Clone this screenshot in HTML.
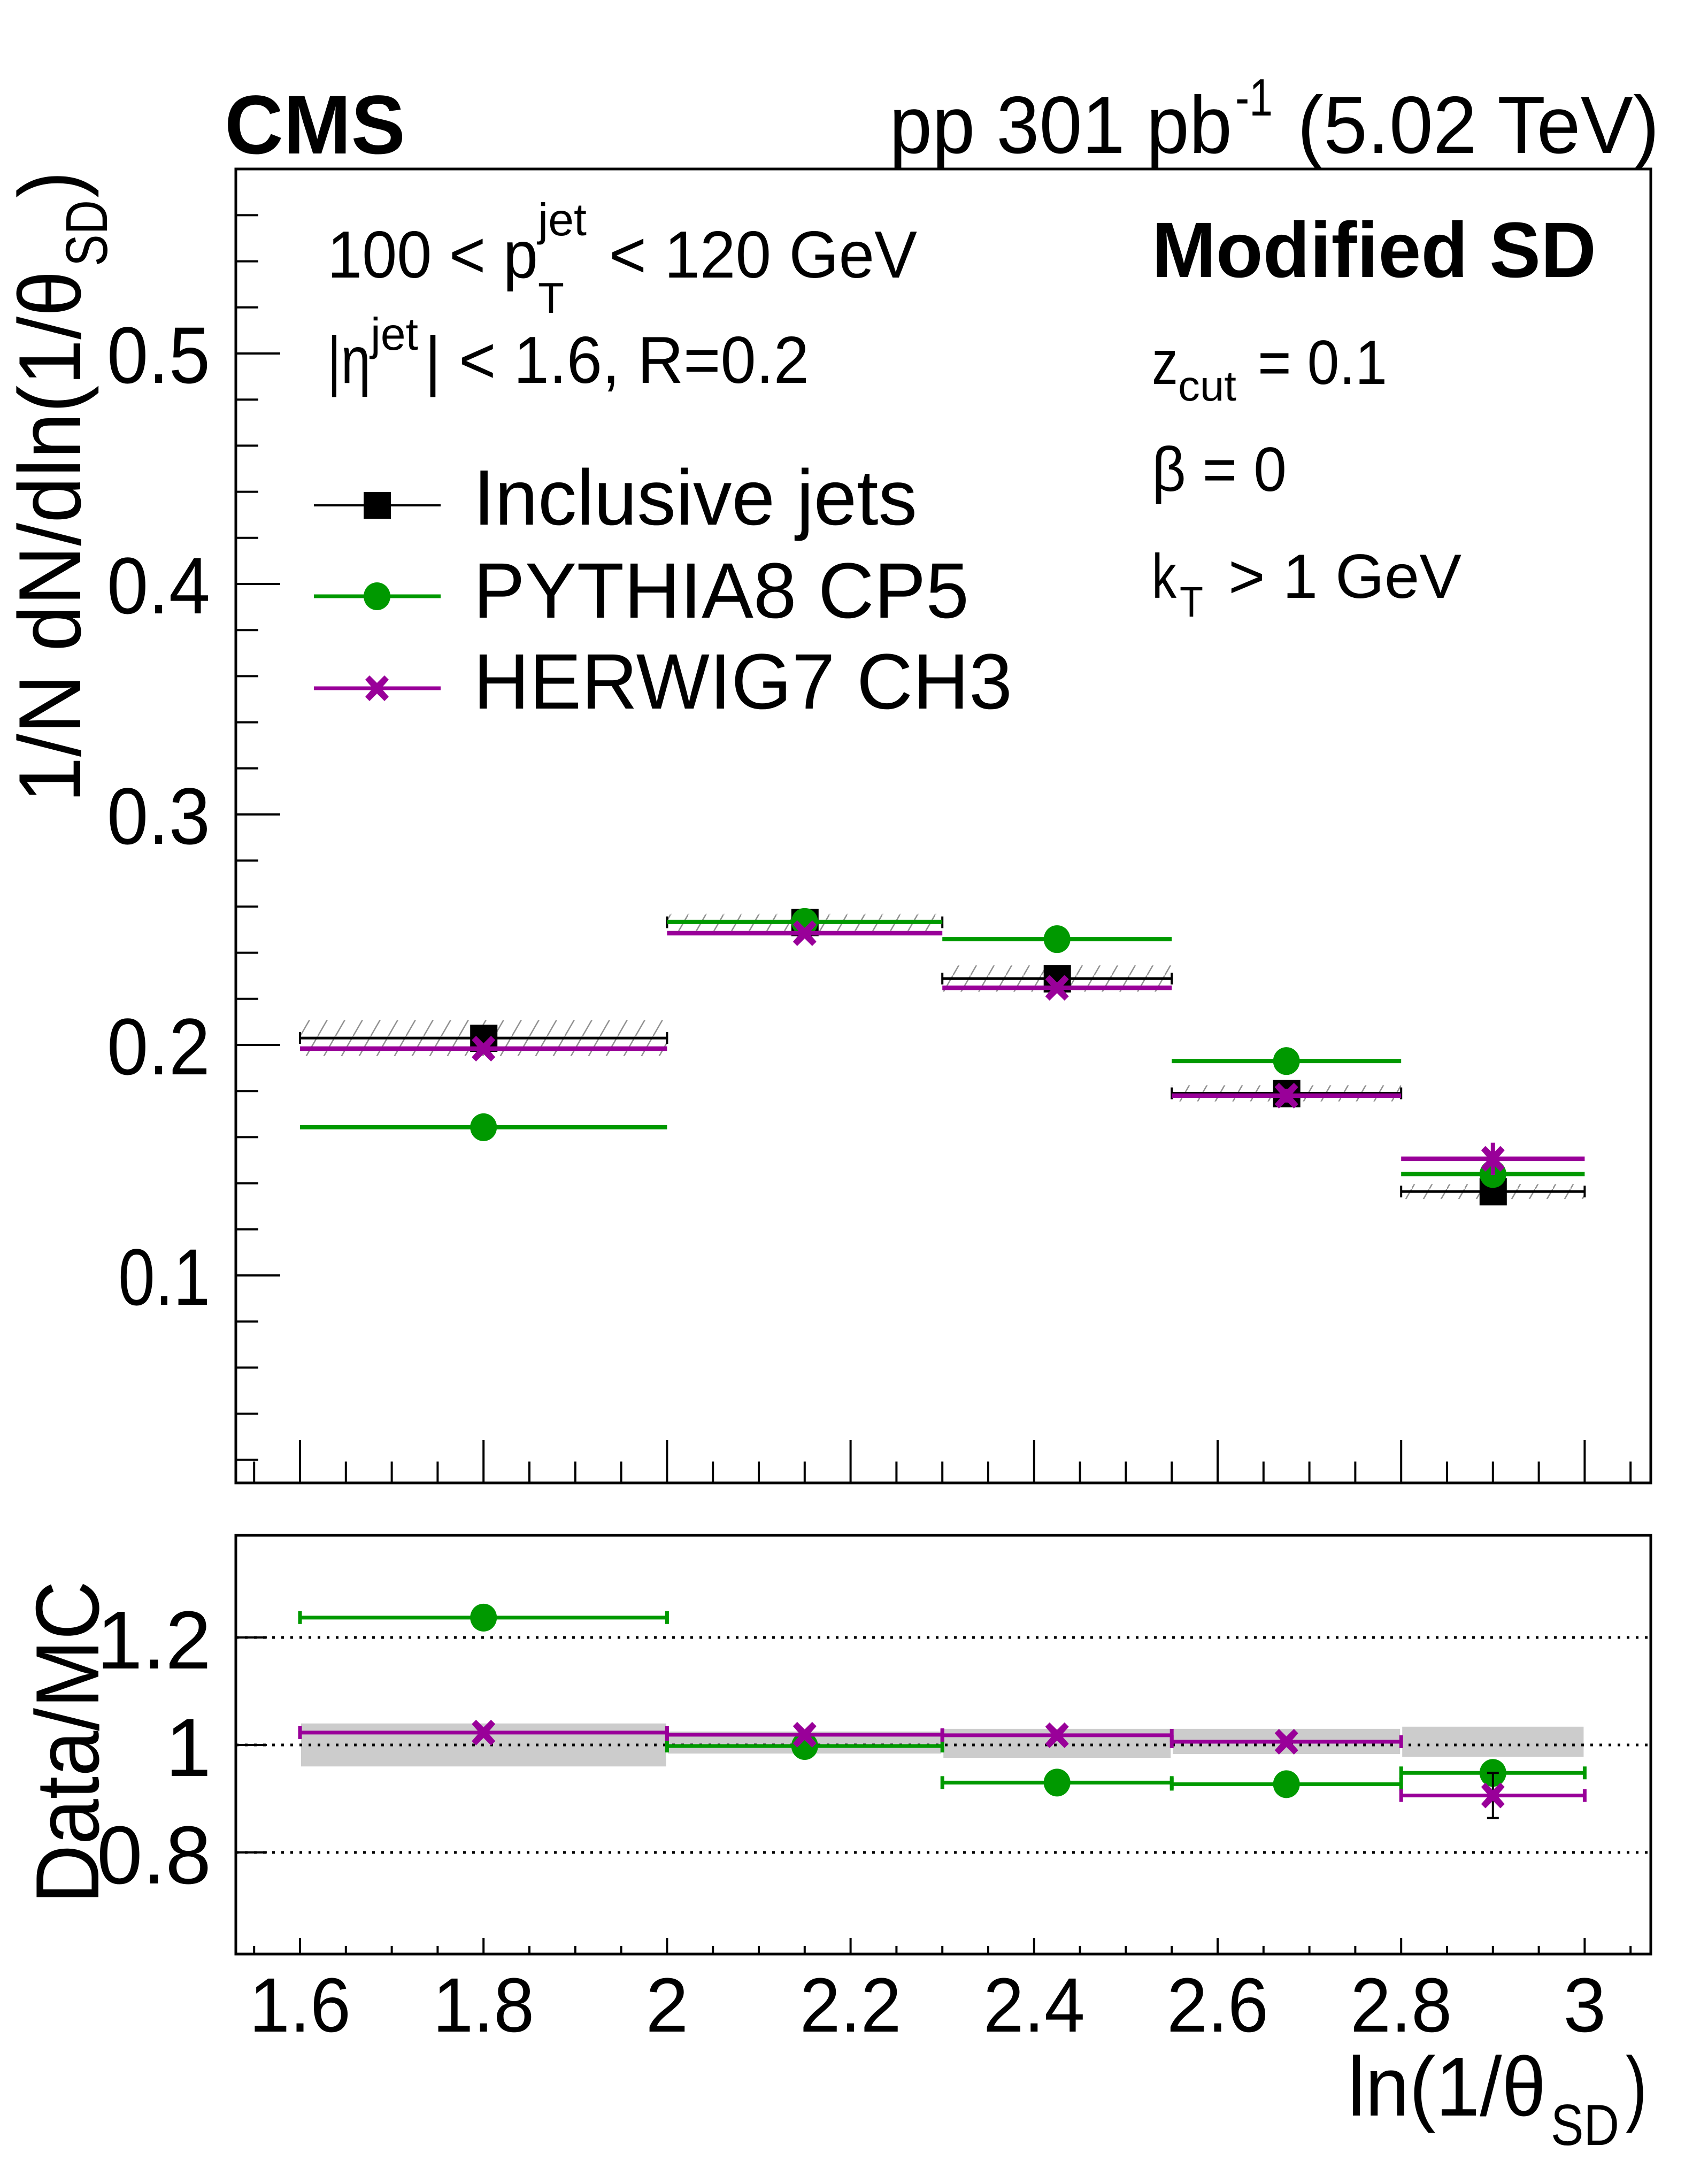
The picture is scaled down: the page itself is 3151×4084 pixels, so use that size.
<!DOCTYPE html>
<html><head><meta charset="utf-8">
<style>
html,body{margin:0;padding:0;background:#fff;}
svg{display:block;}
text{font-family:"Liberation Sans",Helvetica,Arial,sans-serif;fill:#000;}
</style></head>
<body>
<svg id="chart" xmlns="http://www.w3.org/2000/svg" width="3151" height="4084" viewBox="0 0 3151 4084">
<defs>
<pattern id="hatch" patternUnits="userSpaceOnUse" width="33" height="57">
<line x1="0" y1="57" x2="33" y2="0" stroke="#909090" stroke-width="2.5"/>
</pattern>
</defs>
<rect x="0" y="0" width="3151" height="4084" fill="#fff"/>

<text x="420" y="287" font-size="156" font-weight="bold" textLength="338" lengthAdjust="spacingAndGlyphs">CMS</text>
<g>
<text x="1663" y="286" font-size="152" textLength="641" lengthAdjust="spacingAndGlyphs">pp 301 pb</text>
<text x="2310" y="216" font-size="98" textLength="70" lengthAdjust="spacingAndGlyphs">-1</text>
<text x="2426" y="286" font-size="152" textLength="677" lengthAdjust="spacingAndGlyphs">(5.02 TeV)</text>
</g>

<g>
<text x="612" y="519" font-size="124" textLength="394" lengthAdjust="spacingAndGlyphs">100 &lt; p</text>
<text x="1006" y="440" font-size="85" textLength="91" lengthAdjust="spacingAndGlyphs">jet</text>
<text x="1006" y="585" font-size="81" textLength="49" lengthAdjust="spacingAndGlyphs">T</text>
<text x="1139" y="519" font-size="124" textLength="576" lengthAdjust="spacingAndGlyphs">&lt; 120 GeV</text>
</g>
<g>
<text x="612" y="716" font-size="124" textLength="81" lengthAdjust="spacingAndGlyphs">|η</text>
<text x="693" y="654" font-size="85" textLength="89" lengthAdjust="spacingAndGlyphs">jet</text>
<text x="794" y="716" font-size="124" textLength="719" lengthAdjust="spacingAndGlyphs">| &lt; 1.6, R=0.2</text>
</g>
<text x="2154" y="518" font-size="147" font-weight="bold" textLength="831" lengthAdjust="spacingAndGlyphs">Modified SD</text>
<g>
<text x="2154" y="718" font-size="117" textLength="49" lengthAdjust="spacingAndGlyphs">z</text>
<text x="2203" y="749" font-size="80" textLength="109" lengthAdjust="spacingAndGlyphs">cut</text>
<text x="2352" y="718" font-size="117" textLength="242" lengthAdjust="spacingAndGlyphs">= 0.1</text>
</g>
<text x="2154" y="918" font-size="117" textLength="252" lengthAdjust="spacingAndGlyphs">β = 0</text>
<g>
<text x="2154" y="1118" font-size="117" textLength="46" lengthAdjust="spacingAndGlyphs">k</text>
<text x="2206" y="1153" font-size="80" textLength="44" lengthAdjust="spacingAndGlyphs">T</text>
<text x="2297" y="1118" font-size="117" textLength="436" lengthAdjust="spacingAndGlyphs">&gt; 1 GeV</text>
</g>

<g>
<g>
<line x1="587" y1="945" x2="824" y2="945" stroke="#000" stroke-width="4"/>
<rect x="680" y="920" width="51" height="50" fill="#000"/>
<text x="885" y="981" font-size="147" textLength="830" lengthAdjust="spacingAndGlyphs">Inclusive jets</text>
</g>
<g>
<line x1="587" y1="1115" x2="824" y2="1115" stroke="#009900" stroke-width="7"/>
<ellipse cx="705" cy="1115" rx="25" ry="26" fill="#009900"/>
<text x="885" y="1155" font-size="147" textLength="927" lengthAdjust="spacingAndGlyphs">PYTHIA8 CP5</text>
</g>
<g>
<line x1="587" y1="1287" x2="824" y2="1287" stroke="#990099" stroke-width="7"/>
<path d="M683,1271 L691,1263 L705,1277 L719,1263 L727,1271 L713,1287 L727,1303 L719,1311 L705,1297 L691,1311 L683,1303 L697,1287 Z" fill="#990099"/>
<text x="885" y="1325" font-size="147" textLength="1008" lengthAdjust="spacingAndGlyphs">HERWIG7 CH3</text>
</g>
</g>

<g transform="translate(150,1501) rotate(-90)">
<text x="0" y="0" font-size="165" textLength="995" lengthAdjust="spacingAndGlyphs">1/N dN/dln(1/θ</text>
<text x="1003" y="50" font-size="110" textLength="124" lengthAdjust="spacingAndGlyphs">SD</text>
<text x="1131" y="0" font-size="165" textLength="50" lengthAdjust="spacingAndGlyphs">)</text>
</g>
<text transform="translate(184,3560) rotate(-90)" font-size="168" textLength="604" lengthAdjust="spacingAndGlyphs">Data/MC</text>
<g>
<text x="2520" y="3956" font-size="157" textLength="371" lengthAdjust="spacingAndGlyphs">ln(1/θ</text>
<text x="2900" y="4011" font-size="109" textLength="128" lengthAdjust="spacingAndGlyphs">SD</text>
<text x="3040" y="3956" font-size="157" textLength="40" lengthAdjust="spacingAndGlyphs">)</text>
</g>

<g id="top-panel"></g>
<g id="ratio-panel"></g>
</svg>

<script>
const binEdges = [1.6, 2.0, 2.3, 2.55, 2.8, 3.0];
const binCenters = [1.80, 2.15, 2.425, 2.675, 2.90];
const dataValues = [0.203, 0.2532, 0.2288, 0.179, 0.1364];
const dataSyst = [0.0078, 0.0037, 0.0057, 0.0035, 0.0032];
const pythiaValues = [0.1643, 0.2534, 0.2459, 0.193, 0.144];
const herwigValues = [0.1984, 0.2485, 0.2248, 0.178, 0.1506];
const herwigStat = [0.002, 0.002, 0.002, 0.003, 0.007];
const ratioPythia = [1.237, 0.998, 0.930, 0.927, 0.948];
const ratioHerwig = [1.023, 1.019, 1.018, 1.006, 0.906];
const ratioBandLo = [0.960, 0.984, 0.976, 0.983, 0.978];
const ratioBandHi = [1.040, 1.025, 1.030, 1.030, 1.034];
const ratioStatLo = [1.0, 1.0, 1.0, 1.0, 0.864];
const ratioStatHi = [1.0, 1.0, 1.0, 1.0, 0.948];
const yTicksTop = [0.1, 0.2, 0.3, 0.4, 0.5];
const yTickLabelsTop = ["0.1", "0.2", "0.3", "0.4", "0.5"];
const yTicksRatio = [0.8, 1.0, 1.2];
const yTickLabelsRatio = ["0.8", "1", "1.2"];
const xTicks = [1.6, 1.8, 2.0, 2.2, 2.4, 2.6, 2.8, 3.0];
const xTickLabels = ["1.6", "1.8", "2", "2.2", "2.4", "2.6", "2.8", "3"];

const NS = "http://www.w3.org/2000/svg";
const FX0 = 441, FX1 = 3087;
const TOP_Y0 = 316, TOP_Y1 = 2773;
const R_Y0 = 2871, R_Y1 = 3654;
function xs(v){ return 561 + (v - 1.6) * 1716; }
function ys(v){ return 661 + (0.5 - v) * 4310; }
function yr(v){ return 3263 + (1.0 - v) * 1005; }

function mk(parent, tag, attrs){
  const e = document.createElementNS(NS, tag);
  for (const k in attrs) e.setAttribute(k, attrs[k]);
  parent.appendChild(e);
  return e;
}
const topG = document.getElementById('top-panel');
const ratG = document.getElementById('ratio-panel');

function xMarker(g, cx, cy){
  const d = `M${cx-22},${cy-16} L${cx-14},${cy-24} L${cx},${cy-10} L${cx+14},${cy-24} L${cx+22},${cy-16} L${cx+8},${cy} L${cx+22},${cy+16} L${cx+14},${cy+24} L${cx},${cy+10} L${cx-14},${cy+24} L${cx-22},${cy+16} L${cx-8},${cy} Z`;
  return mk(g, 'path', {d: d, fill: '#990099'});
}

const topFrame = mk(topG, 'rect', {x: FX0, y: TOP_Y0, width: FX1-FX0, height: TOP_Y1-TOP_Y0, fill: 'none', stroke: '#000', 'stroke-width': 5});



const yAxisTop = mk(topG, 'g', {});


for (let i = 1; i <= 29; i++){
  const v = i * 0.02;
  const y = ys(v);
  if (y < TOP_Y0 || y > TOP_Y1) continue;
  const major = Math.abs(v*10 - Math.round(v*10)) < 1e-6;
  mk(yAxisTop, 'line', {x1: FX0, x2: FX0 + (major ? 83 : 42), y1: y, y2: y, stroke: '#000', 'stroke-width': 4});
}
yTicksTop.forEach((v, i) => {
  const t = mk(yAxisTop, 'text', {x: 393, y: ys(v) + 55, 'text-anchor': 'end', 'font-size': 150, textLength: yTickLabelsTop[i] === "0.1" ? 172 : 193, lengthAdjust: 'spacingAndGlyphs'});
  t.textContent = yTickLabelsTop[i];
  
  
});

function xTicksOn(g, yBottom, majLen, minLen){
  for (let i = 0; i <= 30; i++){
    const v = 1.55 + i * 0.05;
    const x = xs(v);
    if (x < FX0 || x > FX1) continue;
    const major = Math.abs(v*5 - Math.round(v*5)) < 1e-6;
    mk(g, 'line', {x1: x, x2: x, y1: yBottom, y2: yBottom - (major ? majLen : minLen), stroke: '#000', 'stroke-width': 4});
  }
}
const xAxisTop = mk(topG, 'g', {});


xTicksOn(xAxisTop, TOP_Y1, 80, 40);

for (let i = 0; i < dataValues.length; i++){
  const r = mk(topG, 'rect', {x: xs(binEdges[i]), y: ys(dataValues[i] + dataSyst[i]), width: xs(binEdges[i+1]) - xs(binEdges[i]), height: ys(dataValues[i] - dataSyst[i]) - ys(dataValues[i] + dataSyst[i]), fill: 'url(#hatch)'});
  
  
}
for (let i = 0; i < dataValues.length; i++){
  const g = mk(topG, 'g', {});
  
  
  const x0 = xs(binEdges[i]), x1 = xs(binEdges[i+1]), y = ys(dataValues[i]);
  mk(g, 'line', {x1: x0, x2: x1, y1: y, y2: y, stroke: '#000', 'stroke-width': 5});
  mk(g, 'line', {x1: x0, x2: x0, y1: y-11, y2: y+11, stroke: '#000', 'stroke-width': 4});
  mk(g, 'line', {x1: x1, x2: x1, y1: y-11, y2: y+11, stroke: '#000', 'stroke-width': 4});
}
for (let i = 0; i < dataValues.length; i++){
  const r = mk(topG, 'rect', {x: xs(binCenters[i]) - 25, y: ys(dataValues[i]) - 25, width: 51, height: 51, fill: '#000'});
  
  
}
for (let i = 0; i < pythiaValues.length; i++){
  const g = mk(topG, 'g', {});
  
  
  const y = ys(pythiaValues[i]);
  mk(g, 'line', {x1: xs(binEdges[i]), x2: xs(binEdges[i+1]), y1: y, y2: y, stroke: '#009900', 'stroke-width': 8});
  mk(g, 'ellipse', {cx: xs(binCenters[i]), cy: y, rx: 25, ry: 26, fill: '#009900'});
}
for (let i = 0; i < herwigValues.length; i++){
  const g = mk(topG, 'g', {});
  
  
  const y = ys(herwigValues[i]), cx = xs(binCenters[i]);
  mk(g, 'line', {x1: xs(binEdges[i]), x2: xs(binEdges[i+1]), y1: y, y2: y, stroke: '#990099', 'stroke-width': 8.5});
  mk(g, 'line', {x1: cx, x2: cx, y1: ys(herwigValues[i] + herwigStat[i]), y2: ys(herwigValues[i] - herwigStat[i]), stroke: '#990099', 'stroke-width': 8});
  xMarker(g, cx, y);
}

for (let i = 0; i < ratioBandLo.length; i++){
  const r = mk(ratG, 'rect', {x: xs(binEdges[i]) + 2, y: yr(ratioBandHi[i]), width: xs(binEdges[i+1]) - xs(binEdges[i]) - 4, height: yr(ratioBandLo[i]) - yr(ratioBandHi[i]), fill: '#cccccc'});
  
  
}
yTicksRatio.forEach((v, i) => {
  const l = mk(ratG, 'line', {x1: FX0, x2: FX1, y1: yr(v), y2: yr(v), stroke: '#000', 'stroke-width': 5, 'stroke-dasharray': '5 12'});
  
  
  mk(ratG, 'line', {x1: FX0, x2: FX0 + 58, y1: yr(v), y2: yr(v), stroke: '#000', 'stroke-width': 4});
  const t = mk(ratG, 'text', {x: 395, y: yr(v) + 58, 'text-anchor': 'end', 'font-size': 154});
  t.textContent = yTickLabelsRatio[i];
  
  
});
for (let i = 0; i < ratioPythia.length; i++){
  const g = mk(ratG, 'g', {});
  
  
  const x0 = xs(binEdges[i]), x1 = xs(binEdges[i+1]), y = yr(ratioPythia[i]);
  mk(g, 'line', {x1: x0, x2: x1, y1: y, y2: y, stroke: '#009900', 'stroke-width': 7});
  mk(g, 'line', {x1: x0, x2: x0, y1: y-12, y2: y+12, stroke: '#009900', 'stroke-width': 7});
  mk(g, 'line', {x1: x1, x2: x1, y1: y-12, y2: y+12, stroke: '#009900', 'stroke-width': 7});
  mk(g, 'ellipse', {cx: xs(binCenters[i]), cy: y, rx: 25, ry: 26, fill: '#009900'});
}
for (let i = 0; i < ratioStatLo.length; i++){
  if (ratioStatHi[i] - ratioStatLo[i] < 0.01) continue;
  const g = mk(ratG, 'g', {});
  
  
  const cx = xs(binCenters[i]), y0 = yr(ratioStatHi[i]), y1 = yr(ratioStatLo[i]);
  mk(g, 'line', {x1: cx, x2: cx, y1: y0, y2: y1, stroke: '#000', 'stroke-width': 4});
  mk(g, 'line', {x1: cx-11, x2: cx+11, y1: y0, y2: y0, stroke: '#000', 'stroke-width': 4});
  mk(g, 'line', {x1: cx-11, x2: cx+11, y1: y1, y2: y1, stroke: '#000', 'stroke-width': 4});
}
for (let i = 0; i < ratioHerwig.length; i++){
  const g = mk(ratG, 'g', {});
  
  
  const x0 = xs(binEdges[i]), x1 = xs(binEdges[i+1]), y = yr(ratioHerwig[i]);
  mk(g, 'line', {x1: x0, x2: x1, y1: y, y2: y, stroke: '#990099', 'stroke-width': 7});
  mk(g, 'line', {x1: x0, x2: x0, y1: y-12, y2: y+12, stroke: '#990099', 'stroke-width': 7});
  mk(g, 'line', {x1: x1, x2: x1, y1: y-12, y2: y+12, stroke: '#990099', 'stroke-width': 7});
  xMarker(g, xs(binCenters[i]), y);
}
const ratFrame = mk(ratG, 'rect', {x: FX0, y: R_Y0, width: FX1-FX0, height: R_Y1-R_Y0, fill: 'none', stroke: '#000', 'stroke-width': 5});


const xAxisR = mk(ratG, 'g', {});


xTicksOn(xAxisR, R_Y1, 30, 15);
xTicks.forEach((v, i) => {
  const lab = xTickLabels[i];
  const attrs = {x: xs(v), y: 3799, 'text-anchor': 'middle', 'font-size': 144};
  if (lab.length === 3){ attrs.textLength = 190; attrs.lengthAdjust = 'spacingAndGlyphs'; }
  const t = mk(xAxisR, 'text', attrs);
  t.textContent = lab;
  
  
});
</script>
</body></html>
